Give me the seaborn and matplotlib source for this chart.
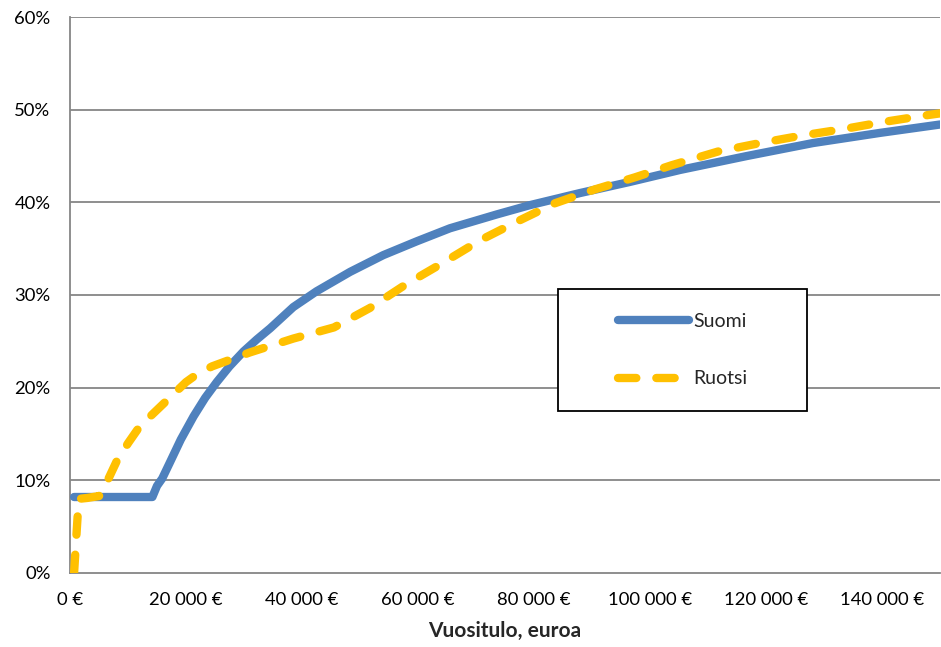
import pandas as pd
import seaborn as sns
import matplotlib.pyplot as plt
from matplotlib.patches import Rectangle

# Effective tax rate by annual income, Finland vs Sweden
suomi_income = [700, 14200, 15000, 15900, 17200, 19100, 21300, 23300, 25300, 27500,
                29900, 32200, 34500, 38500, 42500, 48300, 54000, 59800, 65500, 73600,
                79300, 87900, 96500, 105200, 116700, 128100, 139700, 150000]
suomi_rate = [8.2, 8.2, 9.4, 10.2, 11.9, 14.4, 16.9, 18.9, 20.6, 22.3,
              23.9, 25.2, 26.4, 28.7, 30.4, 32.5, 34.3, 35.8, 37.2, 38.7,
              39.7, 41.0, 42.2, 43.5, 45.0, 46.4, 47.5, 48.4]

ruotsi_income = [700, 1500, 3000, 5000, 6200, 8000, 10000, 12000, 15000, 17500,
                 20000, 22000, 24500, 31000, 38500, 45500, 51700, 57800, 64100, 70700,
                 77000, 83600, 90500, 97400, 103700, 111800, 119000, 126100, 133300,
                 140500, 147700, 150000]
ruotsi_rate = [0.0, 8.0, 8.1, 8.3, 9.6, 12.0, 14.0, 15.8, 17.6, 19.1,
               20.6, 21.5, 22.3, 23.8, 25.3, 26.5, 28.6, 31.1, 33.4, 35.9,
               37.9, 39.9, 41.4, 42.7, 44.0, 45.5, 46.4, 47.2, 47.9,
               48.7, 49.4, 49.6]

x_ticks = [0, 20000, 40000, 60000, 80000, 100000, 120000, 140000]
x_tick_labels = ['0 €', '20 000 €', '40 000 €', '60 000 €', '80 000 €',
                 '100 000 €', '120 000 €', '140 000 €']
y_ticks = [0, 10, 20, 30, 40, 50, 60]
y_tick_labels = ['0%', '10%', '20%', '30%', '40%', '50%', '60%']

suomi = pd.DataFrame({'Tulo': suomi_income, 'Vero': suomi_rate})
ruotsi = pd.DataFrame({'Tulo': ruotsi_income, 'Vero': ruotsi_rate})

sns.set_style('white')
plt.rcParams['font.family'] = ['Lato', 'DejaVu Sans']

grey = '#868686'
fig = plt.figure(figsize=(9.41, 6.47), dpi=100)
ax = fig.add_axes([0.0744, 0.1144, 0.9246, 0.8593])

ax.set_ylim(0, 60)
ax.set_xlim(0, 150000)
for y in y_ticks[1:]:
    ax.axhline(y, color=grey, lw=1.3, zorder=1)

sns.lineplot(data=suomi, x='Tulo', y='Vero', ax=ax, color='#4F81BD', lw=6,
             solid_capstyle='round', solid_joinstyle='round', sort=False,
             label='Suomi', zorder=3)
sns.lineplot(data=ruotsi, x='Tulo', y='Vero', ax=ax, color='#FFC000', lw=6,
             linestyle=(0, (2.2, 2.4)), dash_capstyle='round',
             dash_joinstyle='round', sort=False, label='Ruotsi', zorder=4)

ax.set_xticks(x_ticks)
ax.set_xticklabels(x_tick_labels)
ax.set_yticks(y_ticks)
ax.set_yticklabels(y_tick_labels)
ax.tick_params(axis='both', direction='out', length=5, width=1.3, color=grey,
               labelsize=13.3, labelcolor='black', pad=9)

for side in ['top', 'right']:
    ax.spines[side].set_visible(False)
for side in ['left', 'bottom']:
    ax.spines[side].set_color(grey)
    ax.spines[side].set_linewidth(1.3)

ax.set_xlabel('Vuositulo, euroa', fontsize=15, fontweight='bold', labelpad=9)
ax.set_ylabel('')

# legend box
ax.add_patch(Rectangle((0.561, 0.291), 0.286, 0.220, transform=ax.transAxes,
                       fill=True, facecolor='white', edgecolor='black', lw=1.3,
                       zorder=5))
leg = ax.legend(loc='center', bbox_to_anchor=(0.704, 0.401), frameon=False,
                fontsize=14, handlelength=3.7, handletextpad=0.2,
                labelspacing=2.1)
leg.set_zorder(6)

plt.savefig('out.png', dpi=100)
